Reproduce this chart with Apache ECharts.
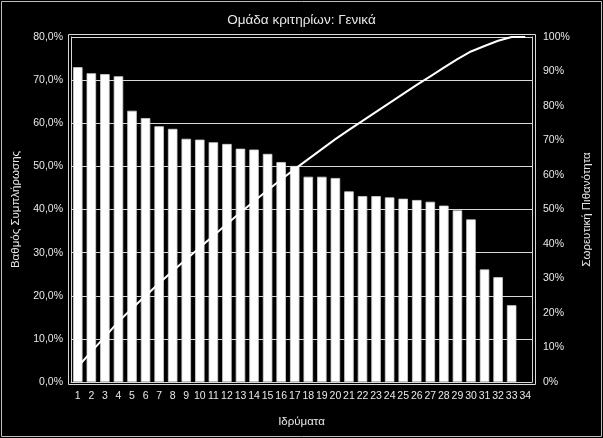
<!DOCTYPE html>
<html>
<head>
<meta charset="utf-8">
<script src="https://cdn.jsdelivr.net/npm/echarts@6/dist/echarts.min.js"></script>
<style>
html,body{margin:0;padding:0;background:#000;}
#c{width:603px;height:438px;}
</style>
</head>
<body>
<div id="c"></div>
<script>
var categories = ['1','2','3','4','5','6','7','8','9','10','11','12','13','14','15','16','17','18','19','20','21','22','23','24','25','26','27','28','29','30','31','32','33','34'];
var completion = [73.0,71.6,71.4,70.9,62.9,61.2,59.3,58.7,56.4,56.2,55.6,55.2,54.1,53.9,52.9,51.0,50.1,47.6,47.6,47.3,44.2,43.1,43.1,42.8,42.5,42.2,41.8,40.9,39.8,37.7,26.1,24.3,17.8,null];
var cumulative = [4.4,8.8,13.1,17.5,21.3,25.0,28.6,32.2,35.6,39.0,42.4,45.8,49.1,52.4,55.6,58.7,61.7,64.6,67.5,70.4,73.1,75.7,78.3,80.9,83.5,86.1,88.6,91.1,93.6,95.8,97.4,98.9,100,100];
var leftTicks = {min:0, max:80, interval:10};
var rightTicks = {min:0, max:100, interval:10};

var txt = '#e8e8e8';
var font = 'Liberation Sans';
var chart = echarts.init(document.getElementById('c'));
chart.setOption({
  backgroundColor: '#000',
  animation: false,
  textStyle: {fontFamily: font},
  title: {
    text: 'Ομάδα κριτηρίων: Γενικά',
    left: 'center', top: 8,
    textStyle: {color: txt, fontSize: 13.5, fontWeight: 'normal', fontFamily: font}
  },
  grid: {left: 71, right: 71, top: 37, bottom: 56},
  graphic: [
    {type:'rect', shape:{x:1.5, y:1.5, width:600, height:435}, style:{fill:'none', stroke:'#bfbfbf', lineWidth:1}, silent:true},
    {type:'rect', shape:{x:68.5, y:34.5, width:467, height:350}, style:{fill:'none', stroke:'#d9d9d9', lineWidth:1}, silent:true}
  ],
  xAxis: {
    type: 'category',
    data: categories,
    name: 'Ιδρύματα',
    nameLocation: 'middle',
    nameGap: 34,
    nameTextStyle: {color: txt, fontSize: 11.5, fontFamily: font},
    axisLine: {lineStyle: {color: '#d9d9d9', width: 1}},
    axisTick: {show: false},
    axisLabel: {color: txt, fontSize: 10.5, interval: 0, margin: 9, fontFamily: font}
  },
  yAxis: [
    {
      type: 'value',
      min: leftTicks.min, max: leftTicks.max, interval: leftTicks.interval,
      name: 'Βαθμός Συμπλήρωσης',
      nameLocation: 'middle',
      nameGap: 46,
      nameTextStyle: {color: txt, fontSize: 11.5, fontFamily: font},
      axisLine: {show: true, lineStyle: {color: '#d9d9d9'}},
      axisTick: {show: false},
      splitLine: {show: true, lineStyle: {color: '#d9d9d9', width: 1}},
      axisLabel: {color: txt, fontSize: 10.5, margin: 8, fontFamily: font,
        formatter: function(v){ return v.toFixed(1).replace('.', ',') + '%'; }}
    },
    {
      type: 'value',
      min: rightTicks.min, max: rightTicks.max, interval: rightTicks.interval,
      name: 'Σωρευτική Πιθανότητα',
      nameLocation: 'middle',
      nameGap: 44,
      nameRotate: 90,
      nameTextStyle: {color: txt, fontSize: 11.5, fontFamily: font},
      axisLine: {show: true, lineStyle: {color: '#d9d9d9'}},
      axisTick: {show: false},
      splitLine: {show: false},
      axisLabel: {color: txt, fontSize: 10.5, margin: 11, fontFamily: font,
        formatter: function(v){ return v + '%'; }}
    }
  ],
  series: [
    {
      type: 'bar',
      data: completion,
      barCategoryGap: '30%',
      itemStyle: {color: '#ffffff', borderColor: '#d0d0d0', borderWidth: 0.8},
      z: 2
    },
    {
      type: 'line',
      yAxisIndex: 1,
      data: cumulative,
      symbol: 'none',
      lineStyle: {color: '#ffffff', width: 2},
      z: 3
    }
  ]
});
</script>
</body>
</html>
